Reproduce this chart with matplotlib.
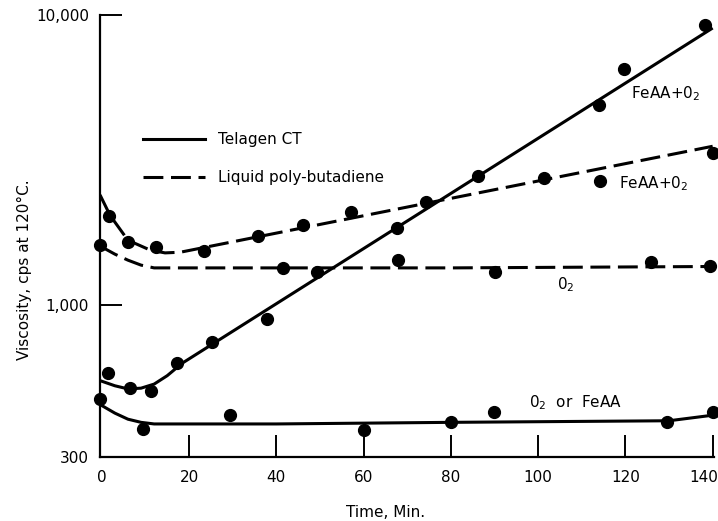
import matplotlib
matplotlib.use("Agg")
import matplotlib.pyplot as plt
from matplotlib.ticker import NullLocator
from matplotlib.lines import Line2D
from matplotlib.transforms import ScaledTranslation

# ---------------- data ----------------
# Telagen CT, FeAA + O2 (solid, rising)
tel_fe_pts_t = [1.4, 6.5, 11.3, 17.2, 25.3, 37.9, 67.6, 86.3, 114.0, 119.6, 138.2]
tel_fe_pts_v = [583, 517, 505, 631, 745, 895, 1844, 2786, 4897, 6510, 9237]
tel_fe_curve_t = [-0.4, 3, 6, 9, 12, 15, 18.4, 140]
tel_fe_curve_v = [550, 528, 515, 518, 535, 572, 631, 9020]

# Telagen CT, O2 or FeAA (solid, flat)
tel_o2_pts_t = [-0.4, 9.5, 29.4, 60.1, 80.0, 89.9, 129.5, 140.0]
tel_o2_pts_v = [474, 376, 418, 371, 395, 428, 395, 428]
tel_o2_curve_t = [-0.4, 3, 6, 9, 12, 40, 80, 130, 140]
tel_o2_curve_v = [455, 425, 405, 395, 390, 390, 395, 400, 418]

# Liquid poly-butadiene, FeAA + O2 (dashed, rising)
pb_fe_pts_t = [1.7, 6.1, 12.4, 23.5, 35.8, 46.2, 57.1, 74.3, 101.3, 114.1, 140.0]
pb_fe_pts_v = [2027, 1649, 1585, 1536, 1729, 1888, 2092, 2265, 2741, 2677, 3344]
pb_fe_curve_t = [-0.4, 1.9, 6.0, 11.1, 14.5, 18.0, 140]
pb_fe_curve_v = [2400, 2040, 1675, 1549, 1515, 1523, 3530]

# Liquid poly-butadiene, O2 (dashed, flat)
pb_o2_pts_t = [-0.4, 41.6, 49.3, 67.9, 90.1, 125.8, 139.3]
pb_o2_pts_v = [1610, 1342, 1300, 1429, 1300, 1407, 1363]
pb_o2_curve_t = [-0.4, 3, 6, 9, 12, 40, 80, 140]
pb_o2_curve_v = [1600, 1500, 1430, 1375, 1345, 1345, 1345, 1360]

x_ticks = [0, 20, 40, 60, 80, 100, 120, 140]
y_ticks = [300, 1000, 10000]
y_tick_labels = ["300", "1,000", "10,000"]

legend_labels = ["Telagen CT", "Liquid poly-butadiene"]

# ---------------- figure ----------------
plt.rcParams['font.family'] = ['DejaVu Sans']
fig = plt.figure(figsize=(7.18, 5.21), dpi=100)
ax = fig.add_axes([0.1393, 0.1228, 0.8551, 0.8484])

LW = 2.2
DASH = (6.5, 2.5)
MS = 8.5

ax.plot(tel_fe_curve_t, tel_fe_curve_v, color='black', lw=LW, solid_capstyle='butt')
ax.plot(tel_o2_curve_t, tel_o2_curve_v, color='black', lw=LW, solid_capstyle='butt')
ax.plot(pb_fe_curve_t, pb_fe_curve_v, color='black', lw=LW, linestyle=(0, DASH))
ax.plot(pb_o2_curve_t, pb_o2_curve_v, color='black', lw=LW, linestyle=(0, DASH))

for t, v in [(tel_fe_pts_t, tel_fe_pts_v), (tel_o2_pts_t, tel_o2_pts_v),
             (pb_fe_pts_t, pb_fe_pts_v), (pb_o2_pts_t, pb_o2_pts_v)]:
    ax.plot(t, v, 'o', color='black', ms=MS, clip_on=False, zorder=5)

ax.set_yscale('log')
ax.set_xlim(-0.4, 140.3)
ax.set_ylim(300, 10000)

ax.set_yticks(y_ticks)
ax.set_yticklabels(y_tick_labels)
ax.yaxis.set_minor_locator(NullLocator())
ax.set_xticks(x_ticks)
ax.set_xticklabels([str(x) for x in x_ticks])

for s in ['top', 'right']:
    ax.spines[s].set_visible(False)
for s in ['left', 'bottom']:
    ax.spines[s].set_linewidth(1.6)

ax.tick_params(axis='both', direction='in', length=16, width=1.4, labelsize=11)
ax.tick_params(axis='y', pad=8)
ax.tick_params(axis='x', pad=9)
ax.xaxis.get_major_ticks()[0].tick1line.set_visible(False)
ax.yaxis.get_major_ticks()[0].tick1line.set_visible(False)

# keep the last x tick label inside the figure
last = ax.get_xticklabels()[-1]
last.set_horizontalalignment('right')
last.set_transform(last.get_transform() + ScaledTranslation(4 / 72, 0, fig.dpi_scale_trans))

ax.set_xlabel("Time, Min.", fontsize=11)
ax.xaxis.set_label_coords((386 - 100) / 614, -0.108)
ax.set_ylabel("Viscosity, cps at 120°C.", fontsize=11)
ax.yaxis.set_label_coords(-0.111, 0.423)

handles = [Line2D([], [], color='black', lw=LW),
           Line2D([], [], color='black', lw=LW, linestyle=(0, DASH))]
ax.legend(handles, legend_labels, loc='upper left', frameon=False,
          bbox_to_anchor=(143 / 718, 1 - 132 / 521), bbox_transform=fig.transFigure,
          borderpad=0, borderaxespad=0, handlelength=4.05, handletextpad=0.85,
          labelspacing=1.5, fontsize=11)

ax.text(121.3, 5150, "FeAA+0$_2$", fontsize=11, ha='left', va='baseline')
ax.text(118.5, 2527, "FeAA+0$_2$", fontsize=11, ha='left', va='baseline')
ax.text(104.3, 1135, "0$_2$", fontsize=11, ha='left', va='baseline')
ax.text(97.9, 446, "0$_2$  or  FeAA", fontsize=11, ha='left', va='baseline')

fig.savefig("out.png", dpi=100)
